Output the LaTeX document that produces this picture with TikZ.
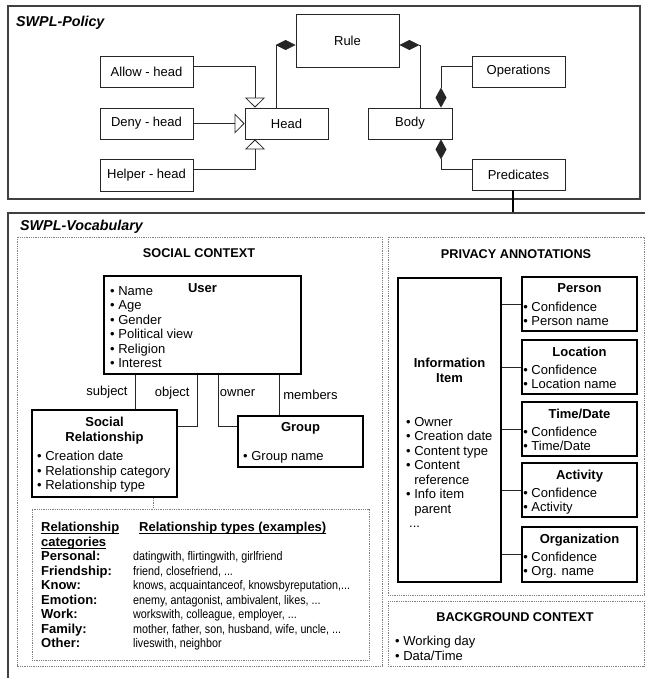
\documentclass[tikz,border=0pt]{standalone}
\usepackage{fontspec}
\usepackage{array}
\setmainfont{Liberation Sans}
\newfontfamily\narrowsf{Liberation Sans}[FakeStretch=0.86]
\usetikzlibrary{arrows.meta,positioning}
\newsavebox{\ulbox}
\newcommand{\uln}[1]{\leavevmode\sbox{\ulbox}{#1}\rlap{\rule[-2.2pt]{\wd\ulbox}{0.9pt}}#1}

\tikzset{
  frame/.style={draw=black!75, line width=1.2pt},
  dbox/.style={draw=black!50, line width=0.8pt, dash pattern=on 0.8pt off 1pt},
  pbox/.style={draw=black!85, line width=0.8pt, inner sep=0pt, minimum width=93pt, minimum height=31pt, font=\fontsize{13}{15}\selectfont},
  tbox/.style={draw=black, line width=1.8pt, inner sep=0pt},
  con/.style={draw=black!85, line width=0.8pt},
  ttl/.style={inner sep=0pt, align=center, font=\bfseries\fontsize{13}{15}\selectfont},
  hdr/.style={inner sep=0pt, font=\bfseries\fontsize{12.7}{15}\selectfont},
  lst/.style={inner sep=0pt, align=left, font=\fontsize{13}{14.5}\selectfont},
  lbl/.style={font=\fontsize{13}{15}\selectfont, inner ysep=0pt},
  big/.style={inner sep=0pt, anchor=west, font=\bfseries\itshape\fontsize{14.3}{16}\selectfont},
  gen/.style={-{Triangle[open, length=10pt, width=20pt]}},
  comp/.style={-{Diamond[length=20pt, width=11pt]}},
  compstart/.style={{Diamond[length=20pt, width=10pt]}-}
}

\begin{document}
\begin{tikzpicture}[x=1pt,y=-1pt]
  \useasboundingbox (0,0) rectangle (645,678);

  % SWPL-Policy
  \draw[frame] (8,6) rectangle (640,199);
  \node[big] (policy) at (16,23) {SWPL-Policy};
  \node[pbox, minimum width=103pt, minimum height=53pt] (rule) at (347.5,40.5) {Rule};
  \node[pbox] (allow) at (146.5,71.5) {Allow - head};
  \node[pbox] (deny) at (146.5,123.5) {Deny - head};
  \node[pbox, minimum height=32pt] (helper) at (146.5,175) {Helper - head};
  \node[pbox, minimum width=83pt] (head) at (286.5,123.5) {Head};
  \node[pbox, minimum width=84pt] (body) at (410,123.5) {Body};
  \node[pbox] (ops) at (518.5,71.5) {Operations};
  \node[pbox] (pred) at (518.5,174.5) {Predicates};

  \draw[con, gen] ([yshift=5.5pt]allow.east) -| ([xshift=-31.5pt]head.north);
  \draw[con, gen] (deny) -- (head);
  \draw[con, gen] ([yshift=5.7pt]helper.east) -| ([xshift=-31.5pt]head.south);
  \draw[con, compstart] ([yshift=-4.5pt]rule.west) -| ([xshift=-10.5pt]head.north);
  \draw[con, compstart] ([yshift=-4.5pt]rule.east) -| ([xshift=10pt]body.north);
  \draw[con, comp] ([yshift=5pt]ops.west) -| ([xshift=31pt]body.north);
  \draw[con, comp] ([yshift=5.2pt]pred.west) -| ([xshift=31pt]body.south);

  % link down to the vocabulary
  \coordinate (vtop) at (513,213);
  \draw[line width=2.5pt] ([xshift=-5.5pt]pred.south) -- (vtop);

  % SWPL-Vocabulary
  \draw[frame] (646,213) -- (8,213) -- (8,679);
  \node[big] (vocab) at (20,227) {SWPL-Vocabulary};
  \draw[dbox] (17,237) rectangle (382,666);
  \draw[dbox] (388,237) rectangle (644,595);
  \draw[dbox] (388,601) rectangle (644,666);

  % social context
  \node[hdr] (soctitle) at (199,253) {SOCIAL CONTEXT};
  \node[tbox, minimum width=197pt, minimum height=98pt] (user) at (202.5,325) {};
  \node[ttl, anchor=north] (usertitle) at ([yshift=-8pt]user.north) {User};
  \node[lst, anchor=north west] (userlist) at (110,286) {• Name\\• Age\\• Gender\\• Political view\\• Religion\\• Interest};

  \node[tbox, minimum width=145pt, minimum height=87pt] (sr) at (104.5,453.5) {};
  \node[ttl, anchor=north] (srtitle) at ([yshift=-8pt]sr.north) {Social\\Relationship};
  \node[lst, anchor=north west] (srlist) at (37,451) {• Creation date\\• Relationship category\\• Relationship type};

  \node[tbox, minimum width=125pt, minimum height=51pt] (group) at (300.5,441.5) {};
  \node[ttl, anchor=north] (grouptitle) at ([yshift=-7pt]group.north) {Group};
  \node[lst, anchor=north west] (grouplist) at (243,451) {• Group name};

  \draw[con] ([xshift=-67.5pt]user.south) -- ([xshift=30.5pt]sr.north) node[lbl, midway, left, inner xsep=7pt] {subject};
  \draw[con] ([xshift=-5.5pt]user.south) |- ([yshift=27.5pt]sr.east) node[lbl, pos=0.18, left, inner xsep=7pt] {object};
  \draw[con] ([xshift=15.5pt]user.south) |- ([yshift=15.5pt]group.west) node[lbl, pos=0.18, right, inner xsep=1.5pt] {owner};
  \draw[con] ([xshift=76.5pt]user.south) -- ([xshift=-21.5pt]group.north) node[lbl, midway, right, inner xsep=4pt] {members};

  \node[dbox, minimum width=337pt, minimum height=151pt] (relbox) at (200.5,584.5) {};
  \draw[dbox] ([xshift=48.5pt]sr.south) -- ([xshift=-47.5pt]relbox.north);
  \node[anchor=north west, inner sep=0pt, font=\fontsize{13}{14.5}\selectfont] (reltab) at (41,521.5) {%
    \begin{tabular}{@{}>{\bfseries}l@{\hspace{14pt}}>{\narrowsf\fontsize{12.5}{14.5}\selectfont}l@{}}
      \uln{Relationship} & \multicolumn{1}{l}{\bfseries\uln{Relationship types (examples)}}\\
      \uln{categories} & \\
      Personal: & datingwith, flirtingwith, girlfriend\\
      Friendship: & friend, closefriend, ...\\
      Know: & knows, acquaintanceof, knowsbyreputation,...\\
      Emotion: & enemy, antagonist, ambivalent, likes, ...\\
      Work: & workswith, colleague, employer, ...\\
      Family: & mother, father, son, husband, wife, uncle, ...\\
      Other: & liveswith, neighbor
    \end{tabular}};

  % privacy annotations
  \node[hdr] (privtitle) at (516,254) {PRIVACY ANNOTATIONS};
  \node[tbox, minimum width=103pt, minimum height=304pt] (info) at (449.5,430) {};
  \node[ttl, anchor=north] (infotitle) at ([yshift=-81pt]info.north) {Information\\Item};
  \node[lst, anchor=north west] (infolist) at (406,417) {• Owner\\• Creation date\\• Content type\\• Content\\\phantom{• }reference\\• Info item\\\phantom{• }parent\\\hspace{3pt}...};

  \node[tbox, minimum width=115pt, minimum height=54pt] (person) at (579.5,304) {};
  \node[ttl, anchor=north] (persontitle) at ([yshift=-7.7pt]person.north) {Person};
  \node[lst, anchor=north west] (personlist) at ([xshift=2pt, yshift=-25.6pt]person.north west) {• Confidence\\• Person name};

  \node[tbox, minimum width=115pt, minimum height=54pt] (location) at (579.5,367) {};
  \node[ttl, anchor=north] (locationtitle) at ([yshift=-7.7pt]location.north) {Location};
  \node[lst, anchor=north west] (locationlist) at ([xshift=2pt, yshift=-25.6pt]location.north west) {• Confidence\\• Location name};

  \node[tbox, minimum width=115pt, minimum height=54pt] (time) at (579.5,429) {};
  \node[ttl, anchor=north] (timetitle) at ([yshift=-7.7pt]time.north) {Time/Date};
  \node[lst, anchor=north west] (timelist) at ([xshift=2pt, yshift=-25.6pt]time.north west) {• Confidence\\• Time/Date};

  \node[tbox, minimum width=115pt, minimum height=54pt] (activity) at (579.5,490) {};
  \node[ttl, anchor=north] (activitytitle) at ([yshift=-7.7pt]activity.north) {Activity};
  \node[lst, anchor=north west] (activitylist) at ([xshift=2pt, yshift=-25.6pt]activity.north west) {• Confidence\\• Activity};

  \node[tbox, minimum width=115pt, minimum height=55pt] (org) at (579.5,554.5) {};
  \node[ttl, anchor=north] (orgtitle) at ([yshift=-7.7pt]org.north) {Organization};
  \node[lst, anchor=north west] (orglist) at ([xshift=2pt, yshift=-25.6pt]org.north west) {• Confidence\\• Org. name};

  \draw[con] (person.west -| info.east) -- (person.west);
  \draw[con] (location.west -| info.east) -- (location.west);
  \draw[con] (time.west -| info.east) -- (time.west);
  \draw[con] (activity.west -| info.east) -- (activity.west);
  \draw[con] (org.west -| info.east) -- (org.west);

  % background context
  \node[hdr] (bgtitle) at (515,617) {BACKGROUND CONTEXT};
  \node[lst, anchor=north west] (bglist) at (395,636) {• Working day\\• Data/Time};
\end{tikzpicture}
\end{document}
